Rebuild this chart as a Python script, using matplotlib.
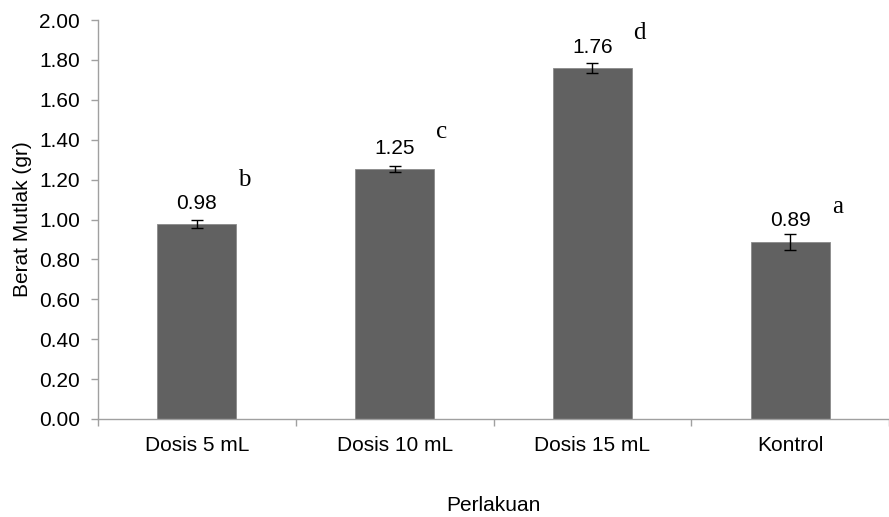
import numpy as np
import matplotlib
matplotlib.use("Agg")
import matplotlib.pyplot as plt

# data
perlakuan = ["Dosis 5 mL", "Dosis 10 mL", "Dosis 15 mL", "Kontrol"]
berat = [0.975, 1.253, 1.759, 0.889]
label_nilai = ["0.98", "1.25", "1.76", "0.89"]
galat = [0.020, 0.013, 0.027, 0.040]
notasi = ["b", "c", "d", "a"]

plt.rcParams['font.family'] = ['Liberation Sans', 'DejaVu Sans']

fig = plt.figure(figsize=(8.89, 5.17), dpi=100)
ax = fig.add_axes([98 / 889, 1 - 419 / 517, 1 - 98 / 889, (419 - 20) / 517])

x = np.arange(len(perlakuan))
ax.bar(x, berat, width=0.4, color='#616161', edgecolor='#8a8a8a', linewidth=0.6, zorder=2)
ax.errorbar(x, berat, yerr=galat, fmt='none', ecolor='black', elinewidth=1,
            capsize=4.5, capthick=1, zorder=3)

# label nilai di atas batang
for xi, yi, t in zip(x, berat, label_nilai):
    ax.annotate(t, (xi, yi), xytext=(0, 15), textcoords='offset points',
                ha='center', va='center', fontsize=15)

# huruf notasi (serif)
geser_notasi = [32, 27, 25, 25]
for xi, yi, t, g in zip(x, berat, notasi, geser_notasi):
    ax.annotate(t, (xi, yi), xytext=(34, g), textcoords='offset points',
                ha='center', va='center', fontsize=18, family='Liberation Serif')

ax.set_ylim(0, 2.0)
ax.set_xlim(-0.5, 3.435)
ax.set_yticks(np.arange(0, 2.01, 0.2))
ax.set_yticklabels([f"{v:.2f}" for v in np.arange(0, 2.01, 0.2)], fontsize=15)
ax.set_xticks(x)
ax.set_xticklabels(perlakuan, fontsize=15)
ax.set_xticks(np.arange(-0.5, len(perlakuan) - 0.4, 1), minor=True)
ax.tick_params(axis='x', which='major', length=0, pad=12)
ax.tick_params(axis='x', which='minor', length=5, color='#a0a0a0', width=1)
ax.tick_params(axis='y', length=5, color='#a0a0a0', width=1, pad=8)

for s in ['top', 'right']:
    ax.spines[s].set_visible(False)
for s in ['left', 'bottom']:
    ax.spines[s].set_color('#a0a0a0')
    ax.spines[s].set_linewidth(1)

ax.set_xlabel('Perlakuan', fontsize=15, labelpad=30)
ax.set_ylabel('Berat Mutlak (gr)', fontsize=15, labelpad=5)

fig.savefig('out.png', dpi=100)
